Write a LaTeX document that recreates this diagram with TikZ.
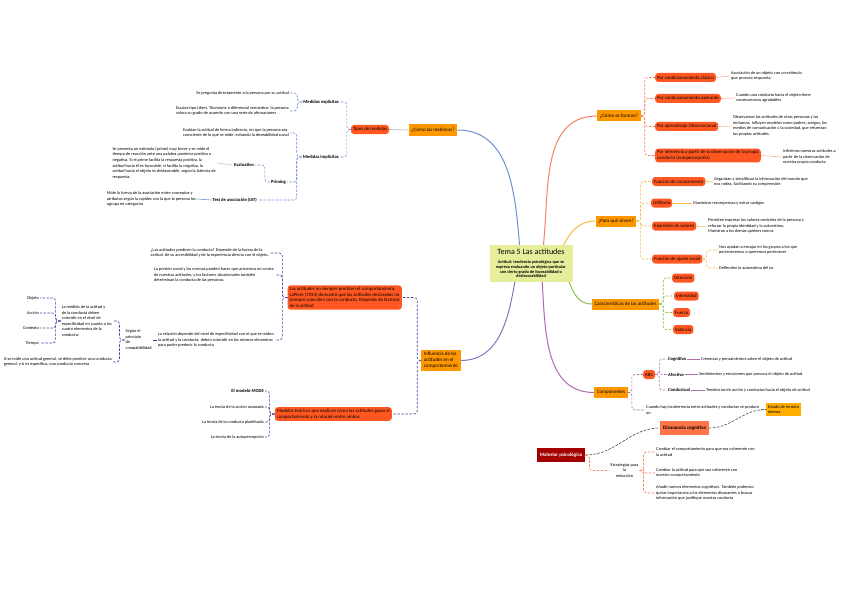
\documentclass[tikz,border=0pt]{standalone}
\usepackage{fontspec}
\setmainfont{Carlito}
\usetikzlibrary{positioning}
\pgfdeclarelayer{background}
\pgfsetlayers{background,main}
\definecolor{naranja}{HTML}{FF9800}
\definecolor{rojo}{HTML}{FF5722}
\definecolor{granate}{HTML}{A30000}
\definecolor{salmon}{HTML}{FF7448}
\definecolor{amarillo}{HTML}{FFAD00}
\definecolor{lima}{HTML}{E6EE9C}
\definecolor{azul}{HTML}{6F8FD8}
\definecolor{indigo}{HTML}{4A3FA0}
\definecolor{coral}{HTML}{F4845F}
\definecolor{oro}{HTML}{F7B844}
\definecolor{verde}{HTML}{8BC34A}
\definecolor{morado}{HTML}{B06AB0}
\definecolor{gris}{HTML}{404040}
\tikzstyle{tema}=[fill=lima, align=center, inner sep=3pt,
  minimum width=83pt, minimum height=37pt,
  font=\fontsize{4.3}{4.8}\selectfont\bfseries]
\tikzstyle{rama}=[fill=naranja, font=\fontsize{5}{6}\selectfont, inner sep=2.5pt,
  minimum height=11pt]
\tikzstyle{sub}=[fill=rojo, rounded corners=3pt, font=\fontsize{4.8}{5.6}\selectfont,
  inner sep=2pt, minimum height=9pt]
\tikzstyle{nota}=[font=\fontsize{4.3}{5.6}\selectfont, align=left, inner sep=1pt]
\tikzstyle{etiqueta}=[nota, font=\fontsize{4.6}{5.6}\selectfont\bfseries]
\tikzstyle{llave}=[draw, line width=0.6pt, dash pattern=on 2.5pt off 1.5pt,
  rounded corners=3pt]
\tikzstyle{enlace}=[draw, line width=0.6pt]
\tikzstyle{tronco}=[draw, line width=1pt]
\newcommand{\llaveder}[4]{\path[llave,draw=#4] (#1.east) -- ++(#3,0) |- (#2.west);}
\newcommand{\llaveizq}[4]{\path[llave,draw=#4] (#1.west) -- ++(-#3,0) |- (#2.east);}
\newcommand{\enlaza}[3]{\path[enlace,draw=#3] (#1) -- (#2);}

\begin{document}
\begin{tikzpicture}[x=1pt,y=-1pt]
  \useasboundingbox (0,0) rectangle (848,599);

  % Draw diagram elements
  % central topic
  \node (TEMA) [tema] at (531,263.5) {{\fontsize{8}{9}\selectfont\mdseries Tema 5 Las actitudes}\\[4pt]
    Actitud: tendencia psicológica que se\\ expresa evaluando un objeto particular\\ con cierto grado de favorabilidad o\\ desfavorabilidad};

  % how they are formed
  \node (FORMAN) [rama] at (619,116) {¿Cómo se forman?};
  \node (F1) [sub, anchor=west] at (655,77.5) {Por condicionamiento clásico};
  \node (F2) [sub, anchor=west] at (655,98.5) {Por condicionamiento operante};
  \node (F3) [sub, anchor=west] at (655,126.5) {Por aprendizaje Observacional};
  \node (F4) [sub, anchor=west, align=left] at (655,155.5) {Por inferencia a partir de la observación de la propia\\conducta (autopercepción)};
  \node (F1n) [nota, anchor=west] at (730,76) {Asociación de un objeto con un estímulo\\que provoca respuesta};
  \node (F2n) [nota, anchor=west] at (735,98) {Cuando una conducta hacia el objeto tiene\\consecuencias agradables};
  \node (F3n) [nota, anchor=west] at (732,126) {Observamos las actitudes de otras personas y las\\imitamos. Influyen modelos como padres, amigos, los\\medios de comunicación o la sociedad, que refuerzan\\las propias actitudes.};
  \node (F4n) [nota, anchor=west] at (782,157) {Inferimos nuestras actitudes a\\partir de la observación de\\nuestra propia conducta};

  % what they are for
  \node (SIRVEN) [rama] at (616,221) {¿Para qué sirven?};
  \node (S1) [sub, anchor=west] at (652,181.5) {Función de conocimiento};
  \node (S2) [sub, anchor=west] at (651,203) {Utilitaria};
  \node (S3) [sub, anchor=west] at (652,226) {Expresión de valores};
  \node (S4) [sub, anchor=west] at (652,259) {Función de ajuste social};
  \node (S1n) [nota, anchor=west] at (713,182) {Organizan y simplifican la información del mundo que\\nos rodea, facilitando su comprensión};
  \node (S2n) [nota, anchor=west] at (692,203) {Maximizar recompensas y evitar castigos};
  \node (S3n) [nota, anchor=west] at (707,226) {Permiten expresar los valores centrales de la persona y\\reforzar la propia identidad y la autoestima.\\Muestran a los demás quiénes somos};
  \node (S4a) [nota, anchor=west] at (718,250) {Nos ayudan a encajar en los grupos a los que\\pertenecemos o queremos pertenecer};
  \node (S4b) [nota, anchor=west] at (718,268) {Defienden la autoestima del yo};

  % features
  \node (CARACT) [rama] at (625.5,304) {Características de las actitudes};
  \node (C1) [sub, anchor=west] at (672,278) {Dirección};
  \node (C2) [sub, anchor=west] at (674,296) {Intensidad};
  \node (C3) [sub, anchor=west] at (673,312.5) {Fuerza};
  \node (C4) [sub, anchor=west] at (673,329.5) {Valencia};

  % components
  \node (COMPON) [rama] at (611,392.5) {Componentes};
  \node (ABC) [sub, anchor=west] at (643,374.5) {ABC};
  \node (COG) [etiqueta, anchor=west] at (667,359) {Cognitivo};
  \node (AFE) [etiqueta, anchor=west] at (667,374.5) {Afectivo};
  \node (CON) [etiqueta, anchor=west] at (667,390) {Conductual};
  \node (COGn) [nota, anchor=west] at (700,359) {Creencias y pensamientos sobre el objeto de actitud};
  \node (AFEn) [nota, anchor=west] at (698,374.5) {Sentimientos y emociones que provoca el objeto de actitud};
  \node (CONn) [nota, anchor=west] at (705,390) {Tendencias de acción y conductas hacia el objeto de actitud};
  \node (INCOH) [nota, anchor=west] at (645,410) {Cuando hay incoherencia entre actitudes y conductas se produce\\un};
  \node (AMAR) [fill=amarillo, nota, inner sep=2pt] at (783.5,409.5) {Estado de tensión\\interna};

  % psychological discomfort
  \node (MALESTAR) [fill=granate, text=white, inner sep=3pt, minimum height=14pt,
    font=\fontsize{5}{6}\selectfont\bfseries] at (561,455) {Malestar psicológico};
  \node (DISON) [fill=salmon, inner sep=3pt, minimum height=14pt,
    font=\fontsize{5}{6}\selectfont\bfseries] at (684.5,428) {Disonancia cognitiva};
  \node (ESTRAT) [nota, align=center] at (624.5,470.5) {Estrategias para\\la\\reducción};
  \node (E1) [nota, anchor=west] at (655,452) {Cambiar el comportamiento para que sea coherente con\\la actitud};
  \node (E2) [nota, anchor=west] at (655,473) {Cambiar la actitud para que sea coherente con\\nuestro comportamiento};
  \node (E3) [nota, anchor=west] at (655,493) {Añadir nuevos elementos cognitivos. También podemos\\quitar importancia a los elementos disonantes o buscar\\información que justifique nuestra conducta};

  % how we measure them
  \node (MEDIMOS) [rama] at (433,130) {¿Cómo las medimos?};
  \node (METOD) [sub] at (370,129.5) {Tipos de medidas};
  \node (EXPL) [etiqueta, anchor=east] at (340,102) {Medidas explícitas};
  \node (IMPL) [etiqueta, anchor=east] at (340,157) {Medidas implícitas};
  \node (X1) [nota, anchor=east] at (290,93) {Se pregunta directamente a la persona por su actitud};
  \node (X2) [nota, anchor=east] at (290,111) {Escalas tipo Likert, Thurstone o diferencial semántico: la persona\\valora su grado de acuerdo con una serie de afirmaciones};
  \node (I1) [nota, anchor=east] at (290,133) {Evalúan la actitud de forma indirecta, sin que la persona sea\\consciente de lo que se mide, evitando la deseabilidad social};
  \node (PRIM) [etiqueta, anchor=east] at (287,182) {Priming};
  \node (EVAL) [etiqueta, anchor=east] at (255,165) {Evaluativo};
  \node (PRIMn) [nota, anchor=east] at (217,163) {Se presenta un estímulo (prime) muy breve y se mide el\\tiempo de reacción ante una palabra posterior positiva o\\negativa. Si el prime facilita la respuesta positiva, la\\actitud hacia él es favorable; si facilita la negativa, la\\actitud hacia el objeto es desfavorable, según la latencia de\\respuesta.};
  \node (IAT) [etiqueta, anchor=east] at (258,200) {Test de asociación (IAT)};
  \node (IATn) [nota, anchor=east] at (197,199) {Mide la fuerza de la asociación entre conceptos y\\atributos según la rapidez con la que la persona los\\agrupa en categorías};

  % influence on behaviour
  \node (INFLU) [rama, align=left] at (441,360.5) {Influencia de las\\actitudes en el\\comportamiento};
  \node (R1) [sub, anchor=east, align=left] at (402,297.5) {Las actitudes no siempre predicen el comportamiento:\\LaPiere (1934) demostró que las actitudes declaradas no\\siempre coinciden con la conducta. Depende de factores\\de la actitud};
  \node (R2) [sub, anchor=east, align=left] at (392,414) {Modelos teóricos que explican cómo las actitudes guían el\\comportamiento y la relación entre ambos};
  \node (A) [nota, anchor=east] at (270,253) {¿Las actitudes predicen la conducta? Depende de la fuerza de la\\actitud, de su accesibilidad y de la experiencia directa con el objeto.};
  \node (B) [nota, anchor=east] at (275,275) {La presión social y las normas pueden hacer que actuemos en contra\\de nuestras actitudes, y los factores situacionales también\\determinan la conducta de las personas.};
  \node (C) [nota, anchor=east] at (275,340) {La relación depende del nivel de especificidad con el que se miden\\la actitud y la conducta: deben coincidir en los mismos elementos\\para poder predecir la conducta};
  \node (COMPAT) [nota, left=4pt of C] {Según el\\principio\\de\\compatibilidad};
  \node (P1) [nota, anchor=east] at (113,321) {La medida de la actitud y\\de la conducta deben\\coincidir en el nivel de\\especificidad en cuanto a los\\cuatro elementos de la\\conducta:};
  \node (P2) [nota, anchor=east] at (113,362) {Si se mide una actitud general, se debe predecir una conducta\\general, y si es específica, una conducta concreta};
  \node (OBJ) [nota, anchor=east] at (40,298) {Objeto};
  \node (ACC) [nota, anchor=east] at (40,313) {Acción};
  \node (CTX) [nota, anchor=east] at (40,328) {Contexto};
  \node (TIE) [nota, anchor=east] at (40,343) {Tiempo};
  \node (M1) [etiqueta, anchor=east] at (265,391) {El modelo MODE};
  \node (M2) [nota, anchor=east] at (265,407) {La teoría de la acción razonada};
  \node (M3) [nota, anchor=east] at (265,422) {La teoría de la conducta planificada};
  \node (M4) [nota, anchor=east] at (265,437) {La teoría de la autopercepción};

  % Draw connectors between elements
  \begin{pgfonlayer}{background}
    \path[fill=white] (0,0) rectangle (848,599);
    \path[tronco,draw=azul] ([xshift=-10pt]TEMA.center) to[out=95,in=0] (MEDIMOS.east);
    \path[tronco,draw=coral] ([xshift=10pt]TEMA.center) to[out=80,in=180] (FORMAN.west);
    \path[tronco,draw=oro] ([xshift=25pt]TEMA.center) to[out=70,in=180] (SIRVEN.west);
    \path[tronco,draw=indigo!70] ([xshift=-13pt]TEMA.center) to[out=-100,in=0] (INFLU.east);
    \path[tronco,draw=morado] ([xshift=10pt]TEMA.center) to[out=-85,in=180] (COMPON.west);
    \path[tronco,draw=verde] ([xshift=30pt]TEMA.center) to[out=-60,in=180] (CARACT.west);
  \end{pgfonlayer}

  % formed
  \llaveder{FORMAN}{F1}{4}{coral}
  \llaveder{FORMAN}{F2}{4}{coral}
  \llaveder{FORMAN}{F3}{4}{coral}
  \llaveder{FORMAN}{F4}{4}{coral}
  \enlaza{F1.east}{F1n.west}{coral!60}
  \enlaza{F2.east}{F2n.west}{coral!60}
  \enlaza{F3.east}{F3n.west}{coral!60}
  \enlaza{F4.east}{F4n.west}{coral!60}

  % for
  \llaveder{SIRVEN}{S1}{4}{oro}
  \llaveder{SIRVEN}{S2}{4}{oro}
  \llaveder{SIRVEN}{S3}{4}{oro}
  \llaveder{SIRVEN}{S4}{4}{oro}
  \enlaza{S1.east}{S1n.west}{oro}
  \enlaza{S2.east}{S2n.west}{oro}
  \enlaza{S3.east}{S3n.west}{oro!60}
  \llaveder{S4}{S4a}{4}{oro}
  \llaveder{S4}{S4b}{4}{oro}

  % features
  \llaveder{CARACT}{C1}{4}{verde}
  \llaveder{CARACT}{C2}{4}{verde}
  \llaveder{CARACT}{C3}{4}{verde}
  \llaveder{CARACT}{C4}{4}{verde}

  % components
  \llaveder{COMPON}{ABC}{4}{morado}
  \llaveder{COMPON}{INCOH}{4}{morado}
  \llaveder{ABC}{COG}{4}{morado}
  \llaveder{ABC}{AFE}{4}{morado}
  \llaveder{ABC}{CON}{4}{morado}
  \enlaza{COG.east}{COGn.west}{morado}
  \enlaza{AFE.east}{AFEn.west}{morado}
  \enlaza{CON.east}{CONn.west}{morado}
  \path[llave,draw=gris] (INCOH.east) -- (AMAR.west);

  % discomfort
  \path[llave,draw=gris] (MALESTAR.east) to[out=0,in=180] (DISON.west);
  \path[llave,draw=gris] (DISON.east) to[out=0,in=180] (AMAR.west);
  \llaveder{MALESTAR}{ESTRAT}{4}{coral}
  \llaveder{ESTRAT}{E1}{4}{coral}
  \llaveder{ESTRAT}{E2}{4}{coral}
  \llaveder{ESTRAT}{E3}{4}{coral}

  % measure
  \enlaza{MEDIMOS.west}{METOD.east}{gray!60}
  \llaveizq{METOD}{EXPL}{4}{azul}
  \llaveizq{METOD}{IMPL}{4}{azul}
  \llaveizq{EXPL}{X1}{5}{azul}
  \llaveizq{EXPL}{X2}{5}{azul}
  \llaveizq{IMPL}{I1}{5}{azul}
  \llaveizq{IMPL}{PRIM}{5}{azul}
  \llaveizq{IMPL}{IAT}{5}{azul}
  \llaveizq{PRIM}{EVAL}{5}{azul}
  \enlaza{EVAL.west}{PRIMn.east}{azul!50}
  \enlaza{IAT.west}{IATn.east}{azul}

  % influence
  \llaveizq{INFLU}{R1}{4}{indigo}
  \llaveizq{INFLU}{R2}{4}{indigo}
  \llaveizq{R1}{A}{5}{indigo}
  \llaveizq{R1}{B}{5}{indigo}
  \llaveizq{R1}{C}{5}{indigo}
  \enlaza{C.west}{COMPAT.east}{indigo}
  \llaveizq{COMPAT}{P1}{5}{indigo}
  \llaveizq{COMPAT}{P2}{5}{indigo}
  \llaveizq{P1}{OBJ}{5}{indigo}
  \llaveizq{P1}{ACC}{5}{indigo}
  \llaveizq{P1}{CTX}{5}{indigo}
  \llaveizq{P1}{TIE}{5}{indigo}
  \llaveizq{R2}{M1}{5}{indigo}
  \llaveizq{R2}{M2}{5}{indigo}
  \llaveizq{R2}{M3}{5}{indigo}
  \llaveizq{R2}{M4}{5}{indigo}

\end{tikzpicture}
\end{document}
